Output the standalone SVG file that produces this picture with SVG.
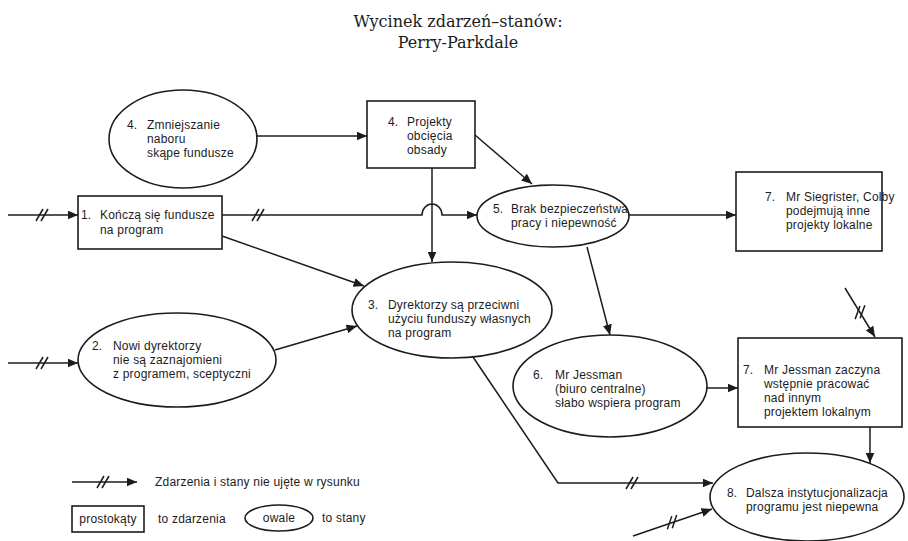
<svg xmlns="http://www.w3.org/2000/svg" width="908" height="541" viewBox="0 0 908 541">
  <style>
    .shape { fill: #fff; stroke: #1c1c1c; stroke-width: 1.6; }
    .edge { fill: none; stroke: #1c1c1c; stroke-width: 1.5; }
    .brk { fill: none; stroke: #1c1c1c; stroke-width: 1.5; }
    .lbl { font-family: "Liberation Sans", Arial, sans-serif; font-size: 12px; letter-spacing: 0.2px; fill: #1c1c1c; }
    .title { font-family: "DejaVu Serif", "Liberation Serif", serif; font-size: 16px; fill: #1c1c1c; text-anchor: middle; }
  </style>
  <defs>
    <marker id="arr" markerUnits="userSpaceOnUse" markerWidth="11" markerHeight="9" refX="10.5" refY="4.5" orient="auto">
      <path d="M0,0 L10.5,4.5 L0,9 z" fill="#1c1c1c"/>
    </marker>
    <!-- break mark: events and states outside the excerpt -->
    <path id="brk" d="M-7,6 L0,-6 M-2,6 L5,-6"/>
  </defs>

  <!-- title -->
  <text class="title" x="458" y="27">Wycinek zdarzeń–stanów:</text>
  <text class="title" x="458" y="48">Perry-Parkdale</text>

  <!-- connectors -->
  <g id="connectors">
    <path class="edge" d="M8,215 H78" marker-end="url(#arr)"/>
    <use class="brk" href="#brk" x="43" y="215"/>

    <path class="edge" d="M222,215 H422 A10,11 0 0 1 442,215 H477" marker-end="url(#arr)"/>
    <use class="brk" href="#brk" x="259" y="215"/>

    <path class="edge" d="M257,136 H367" marker-end="url(#arr)"/>
    <path class="edge" d="M432,168 V262" marker-end="url(#arr)"/>
    <path class="edge" d="M475,135 L532,184" marker-end="url(#arr)"/>
    <path class="edge" d="M222,236 L364,286" marker-end="url(#arr)"/>

    <path class="edge" d="M8,363 H78" marker-end="url(#arr)"/>
    <use class="brk" href="#brk" x="43" y="363"/>
    <path class="edge" d="M275,350 L357,326" marker-end="url(#arr)"/>

    <path class="edge" d="M629,215 H736" marker-end="url(#arr)"/>
    <path class="edge" d="M587,247 L610,335" marker-end="url(#arr)"/>
    <path class="edge" d="M707,388 H738" marker-end="url(#arr)"/>

    <path class="edge" d="M845,288 L875,337" marker-end="url(#arr)"/>
    <use class="brk" href="#brk" transform="translate(861,312) rotate(-10)"/>

    <path class="edge" d="M870,427 V463" marker-end="url(#arr)"/>

    <path class="edge" d="M473,357 L558,483 H713" marker-end="url(#arr)"/>
    <use class="brk" href="#brk" x="633" y="483"/>

    <path class="edge" d="M633,536 L712,509" marker-end="url(#arr)"/>
    <use class="brk" href="#brk" transform="translate(673,522) rotate(-12)"/>
  </g>

  <!-- 4. state -->
  <g id="n4s">
    <ellipse class="shape" cx="183" cy="139" rx="74" ry="49"/>
    <text class="lbl" x="127" y="129">4.</text>
    <text class="lbl" x="147" y="129">Zmniejszanie</text>
    <text class="lbl" x="147" y="143">naboru</text>
    <text class="lbl" x="147" y="157">skąpe fundusze</text>
  </g>

  <!-- 4. event -->
  <g id="n4e">
    <rect class="shape" x="367" y="101" width="108" height="67"/>
    <text class="lbl" x="388" y="126">4.</text>
    <text class="lbl" x="407" y="126">Projekty</text>
    <text class="lbl" x="407" y="140">obcięcia</text>
    <text class="lbl" x="407" y="154">obsady</text>
  </g>

  <!-- 1. event -->
  <g id="n1">
    <rect class="shape" x="78" y="196" width="144" height="53"/>
    <text class="lbl" x="81" y="219">1.</text>
    <text class="lbl" x="100" y="219">Kończą się fundusze</text>
    <text class="lbl" x="100" y="234">na program</text>
  </g>

  <!-- 5. state -->
  <g id="n5">
    <ellipse class="shape" cx="553" cy="216" rx="76" ry="31"/>
    <text class="lbl" x="493" y="213">5.</text>
    <text class="lbl" x="511" y="213">Brak bezpieczeństwa</text>
    <text class="lbl" x="511" y="227">pracy i niepewność</text>
  </g>

  <!-- 7. event (Siegrister) -->
  <g id="n7a">
    <rect class="shape" x="736" y="172" width="146" height="79"/>
    <text class="lbl" x="765" y="201">7.</text>
    <text class="lbl" x="786" y="201">Mr Siegrister, Colby</text>
    <text class="lbl" x="786" y="215">podejmują inne</text>
    <text class="lbl" x="786" y="229">projekty lokalne</text>
  </g>

  <!-- 2. state -->
  <g id="n2">
    <ellipse class="shape" cx="177" cy="360" rx="99" ry="47"/>
    <text class="lbl" x="92" y="350">2.</text>
    <text class="lbl" x="113" y="350">Nowi dyrektorzy</text>
    <text class="lbl" x="113" y="364">nie są zaznajomieni</text>
    <text class="lbl" x="113" y="378">z programem, sceptyczni</text>
  </g>

  <!-- 3. state -->
  <g id="n3">
    <ellipse class="shape" cx="452" cy="310" rx="100" ry="48"/>
    <text class="lbl" x="368" y="309">3.</text>
    <text class="lbl" x="388" y="309">Dyrektorzy są przeciwni</text>
    <text class="lbl" x="388" y="323">użyciu funduszy własnych</text>
    <text class="lbl" x="388" y="337">na program</text>
  </g>

  <!-- 6. state -->
  <g id="n6">
    <ellipse class="shape" cx="610" cy="386" rx="97" ry="51"/>
    <text class="lbl" x="533" y="379">6.</text>
    <text class="lbl" x="555" y="379">Mr Jessman</text>
    <text class="lbl" x="555" y="393">(biuro centralne)</text>
    <text class="lbl" x="555" y="407">słabo wspiera program</text>
  </g>

  <!-- 7. event (Jessman) -->
  <g id="n7b">
    <rect class="shape" x="738" y="338" width="164" height="89"/>
    <text class="lbl" x="743" y="374">7.</text>
    <text class="lbl" x="764" y="374">Mr Jessman zaczyna</text>
    <text class="lbl" x="764" y="388">wstępnie pracować</text>
    <text class="lbl" x="764" y="402">nad innym</text>
    <text class="lbl" x="764" y="416">projektem lokalnym</text>
  </g>

  <!-- 8. state -->
  <g id="n8">
    <ellipse class="shape" cx="807" cy="497" rx="97" ry="44"/>
    <text class="lbl" x="727" y="497">8.</text>
    <text class="lbl" x="746" y="497">Dalsza instytucjonalizacja</text>
    <text class="lbl" x="746" y="511">programu jest niepewna</text>
  </g>

  <!-- legend -->
  <g id="legend">
    <path class="edge" d="M72,482 H137" marker-end="url(#arr)"/>
    <use class="brk" href="#brk" x="104" y="482"/>
    <text class="lbl" x="155" y="486">Zdarzenia i stany nie ujęte w rysunku</text>
    <rect class="shape" x="72" y="506" width="72" height="26"/>
    <text class="lbl" x="108" y="523" text-anchor="middle">prostokąty</text>
    <text class="lbl" x="158" y="523">to zdarzenia</text>
    <ellipse class="shape" cx="279" cy="518" rx="34" ry="13"/>
    <text class="lbl" x="279" y="522" text-anchor="middle">owale</text>
    <text class="lbl" x="322" y="522">to stany</text>
  </g>
</svg>
